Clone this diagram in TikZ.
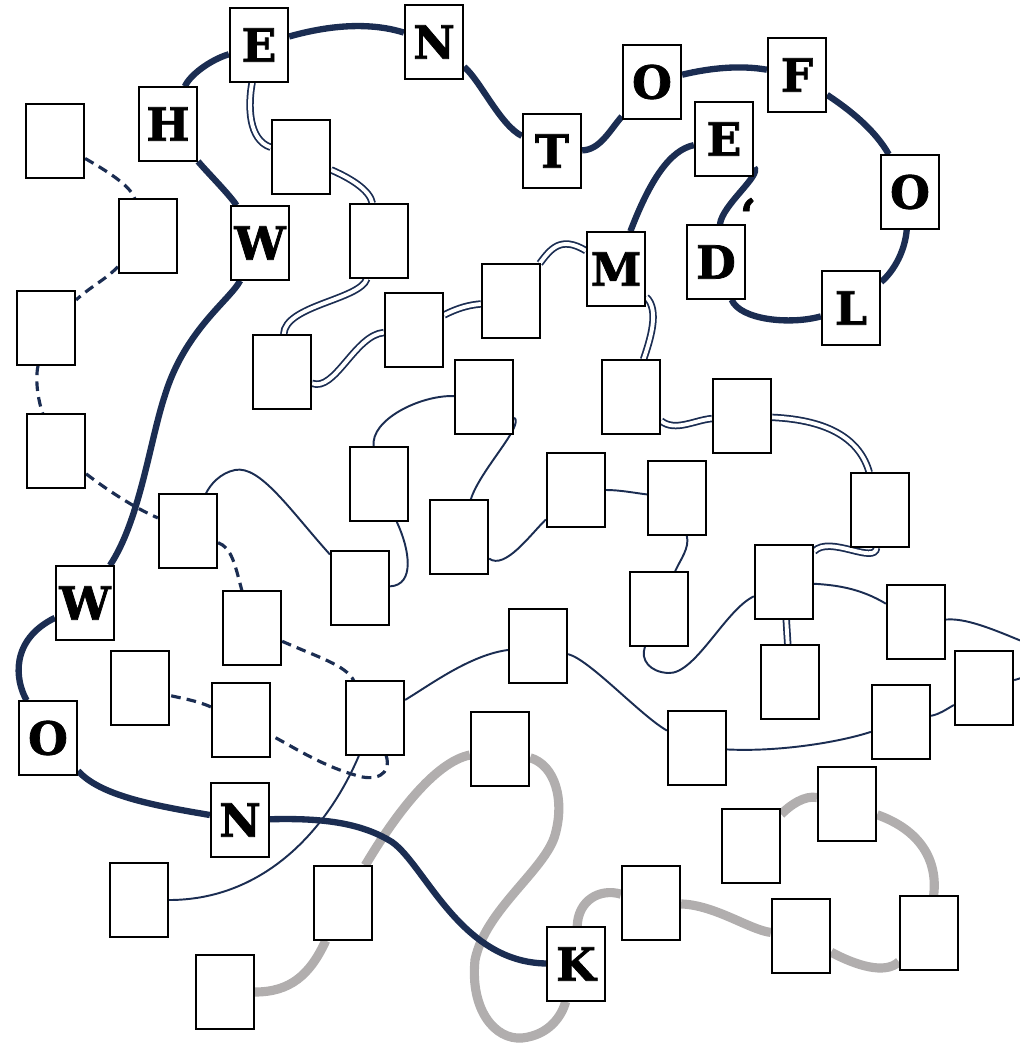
\documentclass[tikz,border=0pt]{standalone}
\usepackage{fontspec}
\newfontfamily\slabfont{DejaVu Serif}[BoldFeatures={FakeBold=1.6}]
\usetikzlibrary{backgrounds}
\definecolor{navy}{HTML}{1B2D52}
\definecolor{pebble}{HTML}{B1AEAE}
\begin{document}
\begin{tikzpicture}[x=0.02cm,y=-0.02cm,
	blankbox/.style={draw=black,line width=1pt,fill=white,minimum width=1.17cm,minimum height=1.47cm,inner sep=0pt},
	letterbox/.style={blankbox,font=\slabfont\bfseries\fontsize{26}{26}\selectfont},
	foldroute/.style={draw=navy,line width=3.6pt},
	twinroute/.style={draw=navy,line width=1pt,double=white,double distance=2.2pt},
	thinroute/.style={draw=navy,line width=1.1pt},
	dashroute/.style={draw=navy,line width=1.8pt,dash pattern=on 5.5pt off 3.5pt},
	greyroute/.style={draw=pebble,line width=5.2pt}]
	\useasboundingbox (0,0) rectangle (1019,1047);
	\node[letterbox] (K) at (576,964) {K};
	\node[letterbox] (N1) at (240,820) {N};
	\node[letterbox] (O1) at (48,738) {O};
	\node[letterbox] (W1) at (85,603) {W};
	\node[letterbox] (W2) at (260,243) {W};
	\node[letterbox] (H) at (168,124) {H};
	\node[letterbox] (E1) at (259,45) {E};
	\node[letterbox] (N2) at (434,42) {N};
	\node[letterbox] (T) at (552,151) {T};
	\node[letterbox] (O2) at (652,82) {O};
	\node[letterbox] (F) at (797,75) {F};
	\node[letterbox] (O3) at (910,192) {O};
	\node[letterbox] (L) at (851,308) {L};
	\node[letterbox] (D) at (716,262) {D};
	\node[letterbox] (E2) at (724,139) {E};
	\node[letterbox] (M) at (616,269) {M};
	\node[font=\slabfont\bfseries\fontsize{26}{26}\selectfont,inner sep=0pt] (quote) at (748,215) {‘};
	\foreach \n/\px/\py in {1/55/141,2/301/157,3/148/236,4/379/241,5/46/328,6/282/372,7/414/330,8/511/301,
		9/484/397,10/631/397,11/742/416,12/56/451,13/188/531,14/379/484,15/360/588,16/459/537,
		17/576/490,18/677/498,19/880/510,20/784/582,21/659/609,22/916/622,23/252/628,24/140/688,
		25/241/720,26/375/718,27/538/646,28/790/682,29/984/688,30/901/722,31/697/748,32/500/749,
		33/847/804,34/751/846,35/139/900,36/343/903,37/225/992,38/651/903,39/801/936,40/929/933}
		\node[blankbox] (b\n) at (\px,\py) {};
	\begin{scope}[on background layer]
		\draw[greyroute] (b37) .. controls (290,992) and (310,975) .. (b36)
			(b36) .. controls (395,815) and (435,762) .. (b32)
			(b32) .. controls (555,765) and (565,800) .. (555,835) .. controls (545,870) and (485,910) .. (475,960) .. controls (470,1010) and (495,1040) .. (522,1038) .. controls (550,1035) and (562,1015) .. (K)
			(K) .. controls (578,900) and (600,888) .. (b38)
			(b38) .. controls (715,905) and (750,930) .. (b39)
			(b39) .. controls (855,965) and (885,975) .. (b40)
			(b40) .. controls (938,860) and (920,830) .. (b33)
			(b33) .. controls (805,795) and (790,805) .. (b34);
		\draw[dashroute] (b1) .. controls (105,170) and (130,185) .. (b3)
			(b3) .. controls (105,280) and (90,287) .. (b5)
			(b5) .. controls (35,380) and (38,400) .. (b12)
			(b12) .. controls (110,492) and (135,508) .. (b13)
			(b13) .. controls (232,548) and (235,565) .. (b23)
			(b23) .. controls (320,658) and (345,665) .. (b26)
			(b26) .. controls (392,775) and (375,782) .. (355,775) .. controls (320,765) and (290,745) .. (b25)
			(b25) .. controls (195,700) and (180,698) .. (b24);
		\draw[thinroute] (b35) .. controls (260,900) and (325,835) .. (b26)
			(b26) .. controls (430,685) and (470,655) .. (b27)
			(b27) .. controls (590,660) and (640,715) .. (b31)
			(b31) .. controls (780,752) and (840,742) .. (b30)
			(b30) .. controls (940,714) and (945,710) .. (b29)
			(b29) .. controls (1045,672) and (1050,652) .. (1019,640) .. controls (990,628) and (965,618) .. (b22)
			(b22) .. controls (860,588) and (835,585) .. (b20)
			(b20) .. controls (725,610) and (695,675) .. (668,673) .. controls (650,672) and (640,660) .. (b21)
			(b21) .. controls (680,560) and (690,548) .. (b18)
			(b18) .. controls (635,493) and (620,490) .. (b17)
			(b17) .. controls (530,535) and (505,570) .. (b16)
			(b16) .. controls (480,470) and (525,425) .. (b9)
			(b9) .. controls (420,395) and (370,420) .. (b14)
			(b14) .. controls (410,550) and (415,585) .. (b15)
			(b15) .. controls (290,510) and (260,465) .. (235,470) .. controls (220,473) and (210,485) .. (b13);
		\draw[twinroute] (E1) .. controls (248,105) and (248,140) .. (b2)
			(b2) .. controls (350,178) and (370,190) .. (b4)
			(b4) .. controls (360,300) and (285,305) .. (b6)
			(b6) .. controls (335,392) and (355,335) .. (b7)
			(b7) .. controls (460,307) and (470,305) .. (b8)
			(b8) .. controls (550,250) and (560,235) .. (M)
			(M) .. controls (660,310) and (650,340) .. (b10)
			(b10) .. controls (675,432) and (695,420) .. (b11)
			(b11) .. controls (830,420) and (860,440) .. (b19)
			(b19) .. controls (875,565) and (830,535) .. (b20)
			(b20) -- (b28);
		\draw[foldroute] (K) .. controls (460,962) and (425,865) .. (392,842) .. controls (360,822) and (320,818) .. (N1)
			(N1) .. controls (150,805) and (100,795) .. (O1)
			(O1) .. controls (15,680) and (10,640) .. (W1)
			(W1) .. controls (140,520) and (150,440) .. (165,395) .. controls (185,330) and (230,300) .. (W2)
			(W2) .. controls (230,195) and (205,170) .. (H)
			(H) .. controls (190,75) and (210,60) .. (E1)
			(E1) .. controls (330,25) and (370,22) .. (N2)
			(N2) .. controls (480,80) and (500,125) .. (T)
			(T) .. controls (600,150) and (610,130) .. (O2)
			(O2) .. controls (710,68) and (740,65) .. (F)
			(F) .. controls (850,110) and (875,130) .. (O3)
			(O3) .. controls (905,250) and (895,270) .. (L)
			(L) .. controls (790,325) and (740,320) .. (D)
			(D) .. controls (722,205) and (762,175) .. (E2)
			(E2) .. controls (670,150) and (650,180) .. (M);
	\end{scope}
\end{tikzpicture}
\end{document}
